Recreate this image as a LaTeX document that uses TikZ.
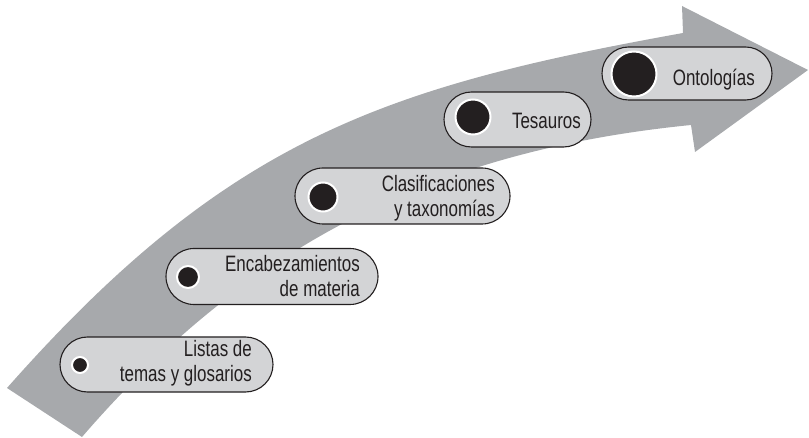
\documentclass[tikz,border=0pt]{standalone}
\usepackage{fontspec}
\setmainfont{Liberation Sans}[FakeStretch=0.76]
\usepackage{tikz}
\usetikzlibrary{shapes.misc}

\definecolor{arrowgray}{HTML}{A7A9AC}
\definecolor{boxgray}{HTML}{D3D4D6}
\definecolor{inkdark}{HTML}{231F20}

\begin{document}
\begin{tikzpicture}[x=1bp,y=-1bp,
    stage/.style={rounded rectangle, draw=inkdark, line width=1.1bp, fill=boxgray, inner sep=0pt},
    dot/.style={circle, fill=inkdark, draw=white, line width=2bp, inner sep=0pt},
    stagetext/.style={anchor=base east, align=right, inner sep=0pt, text=inkdark,
        font=\fontsize{22.3bp}{25bp}\selectfont}]
    \useasboundingbox (0,0) rectangle (809,438);

    % Big curved arrow behind the stages
    \fill[arrowgray] (7,388) .. controls (227,139) and (383,87) .. (683,33)
        -- (682,6) -- (808,70) -- (695,152) -- (691,125)
        .. controls (441,150) and (252,240) .. (82,437) -- cycle;

    % Stages (from bottom to top)
    \node[stage, minimum width=213bp, minimum height=55bp] (listas) at (166.5,364.5) {};
    \node[stage, minimum width=212bp, minimum height=56bp] (encab) at (272,276.5) {};
    \node[stage, minimum width=215bp, minimum height=56bp] (clasif) at (402.5,196) {};
    \node[stage, minimum width=147bp, minimum height=55bp] (tesauros) at (517.5,119.5) {};
    \node[stage, minimum width=170bp, minimum height=53bp] (ontologias) at (687,73.5) {};

    % Dots grow with each stage
    \node[dot, minimum size=16bp] (listas-dot) at (80,365) {};
    \node[dot, minimum size=22bp] (encab-dot) at (188,277) {};
    \node[dot, minimum size=29bp] (clasif-dot) at (323,197) {};
    \node[dot, minimum size=35bp] (tesauros-dot) at (473,117) {};
    \node[dot, minimum size=45bp] (ontologias-dot) at (634,74) {};

    % Labels (base = last line)
    \node[stagetext] (listas-text) at (252,382) {Listas de\\temas y glosarios};
    \node[stagetext] (encab-text) at (360,297) {Encabezamientos\\de materia};
    \node[stagetext] (clasif-text) at (495,217) {Clasificaciones\\y taxonomías};
    \node[stagetext] (tesauros-text) at (581,129) {Tesauros};
    \node[stagetext] (ontologias-text) at (755,85.5) {Ontologías};
\end{tikzpicture}
\end{document}
